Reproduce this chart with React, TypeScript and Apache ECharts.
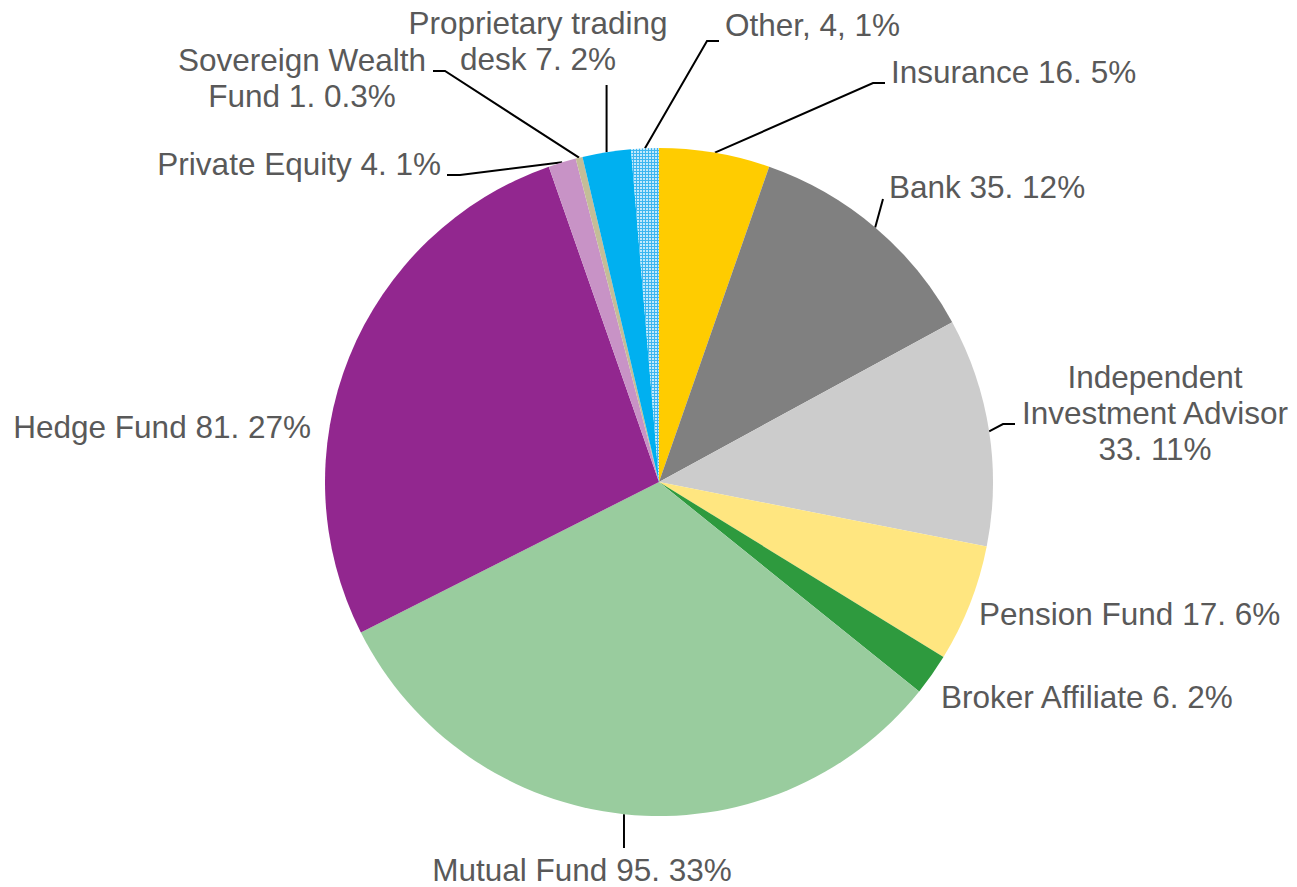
import React, { useEffect, useRef } from 'react';
import * as echarts from 'echarts';

const categories = [
  'Insurance',
  'Bank',
  'Independent Investment Advisor',
  'Pension Fund',
  'Broker Affiliate',
  'Mutual Fund',
  'Hedge Fund',
  'Private Equity',
  'Sovereign Wealth Fund',
  'Proprietary trading desk',
  'Other',
];
const values = [16, 35, 33, 17, 6, 95, 81, 4, 1, 7, 4];
const percentLabels = ['5%', '12%', '11%', '6%', '2%', '33%', '27%', '1%', '0.3%', '2%', '1%'];
const labelNames = [
  'Insurance ',
  'Bank ',
  'Independent\nInvestment Advisor\n',
  'Pension Fund ',
  'Broker Affiliate ',
  'Mutual Fund ',
  'Hedge Fund ',
  'Private Equity ',
  'Sovereign Wealth\nFund ',
  'Proprietary trading\ndesk ',
  'Other, ',
];
const sliceColors = [
  '#FFCC00',
  '#808080',
  '#CCCCCC',
  '#FFE680',
  '#2E9A3E',
  '#99CC9E',
  '#92278F',
  '#C893C6',
  '#C4BD98',
  '#00B0F0',
  'pattern',
];

type Placement = {
  x: number;
  y: number;
  align: 'left' | 'center' | 'right';
  line?: number[][];
  verticalTo?: number;
};

const labelPlacement: Placement[] = [
  { x: 891, y: 72, align: 'left', line: [[873, 83], [885, 83]] },
  { x: 889, y: 187, align: 'left', line: [[883, 199]] },
  { x: 1155, y: 413, align: 'center', line: [[1003, 424], [1015, 424]] },
  { x: 979, y: 614, align: 'left' },
  { x: 941, y: 697, align: 'left' },
  { x: 582, y: 870, align: 'center', verticalTo: 848 },
  { x: 311, y: 427, align: 'right' },
  { x: 441, y: 164, align: 'right', line: [[460, 175], [447, 175]] },
  { x: 302, y: 78, align: 'center', line: [[445, 71], [433, 71]] },
  { x: 538, y: 41, align: 'center', verticalTo: 85 },
  { x: 725, y: 25, align: 'left', line: [[707, 41], [719, 41]] },
];

const CX = 659;
const CY = 482;
const R = 334;

function makePattern(): any {
  const c = document.createElement('canvas');
  c.width = 3;
  c.height = 3;
  const ctx = c.getContext('2d');
  if (!ctx) return '#8FD4F5';
  ctx.fillStyle = '#C2E9FB';
  ctx.fillRect(0, 0, 3, 3);
  ctx.fillStyle = '#3DB6F0';
  ctx.fillRect(0, 0, 3, 1);
  ctx.fillRect(0, 0, 1, 3);
  return { image: c, repeat: 'repeat' };
}

function anchorFor(i: number): number[] {
  const total = values.reduce((a, b) => a + b, 0);
  let cum = 0;
  for (let k = 0; k < i; k++) cum += values[k];
  const mid = ((cum + values[i] / 2) / total) * Math.PI * 2;
  return [CX + R * Math.sin(mid), CY - R * Math.cos(mid)];
}

export default function App() {
  const ref = useRef<HTMLDivElement>(null);
  useEffect(() => {
    if (!ref.current) return;
    const chart = echarts.init(ref.current, undefined, { renderer: 'svg' });
    const pattern = makePattern();
    const data = categories.map((name, i) => {
      const p = labelPlacement[i];
      const hasLine = !!(p.line || p.verticalTo != null);
      return {
        name,
        value: values[i],
        itemStyle: { color: sliceColors[i] === 'pattern' ? pattern : sliceColors[i] },
        labelLine: { show: hasLine },
      };
    });
    chart.setOption({
      animation: false,
      backgroundColor: '#FFFFFF',
      series: [
        {
          type: 'pie',
          center: [CX, CY],
          radius: R,
          startAngle: 90,
          clockwise: true,
          avoidLabelOverlap: false,
          silent: true,
          data,
          itemStyle: { borderWidth: 0 },
          label: {
            show: true,
            position: 'outside',
            fontFamily: '"Liberation Sans", Arial, sans-serif',
            fontSize: 31.5,
            lineHeight: 36,
            color: '#595959',
            formatter: (params: any) => {
              const i = params.dataIndex;
              if (categories[i] === 'Other') {
                return `${labelNames[i]}${values[i]}, ${percentLabels[i]}`;
              }
              return `${labelNames[i]}${values[i]}. ${percentLabels[i]}`;
            },
          },
          labelLine: {
            show: true,
            lineStyle: { color: '#000000', width: 2 },
          },
          labelLayout: (params: any) => {
            const i = params.dataIndex;
            const p = labelPlacement[i];
            const def = params.labelLinePoints && params.labelLinePoints[0];
            const a = def ? [def[0], def[1]] : anchorFor(i);
            const out: any = {
              x: p.x,
              y: p.y,
              align: p.align,
              verticalAlign: 'middle',
            };
            if (p.line) {
              out.labelLinePoints = [a, ...p.line];
            } else if (p.verticalTo != null) {
              out.labelLinePoints = [a, [a[0], p.verticalTo]];
            }
            return out;
          },
        },
      ],
    });
    return () => chart.dispose();
  }, []);
  return (
    <div
      ref={ref}
      style={{ position: 'absolute', left: 0, top: 0, width: 1297, height: 887 }}
    />
  );
}
